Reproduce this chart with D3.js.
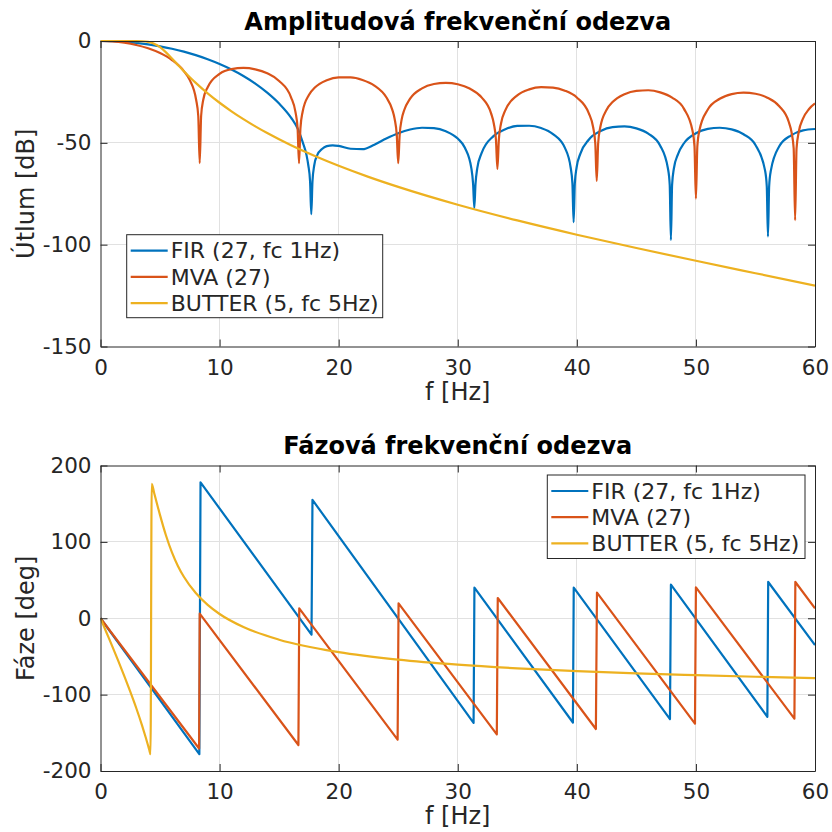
<!DOCTYPE html>
<html>
<head>
<meta charset="utf-8">
<script src="https://cdn.jsdelivr.net/npm/d3@7"></script>
<style>
  body { margin: 0; background: #ffffff; }
</style>
</head>
<body>
<script>
// ---- tick values ----
const freqTicks = [0, 10, 20, 30, 40, 50, 60];
const magTicks = [0, -50, -100, -150];
const phaseTicks = [-200, -100, 0, 100, 200];

// ---- legend entries ----
const seriesNames = ["FIR (27, fc 1Hz)", "MVA (27)", "BUTTER (5, fc 5Hz)"];

// ---- amplitude responses: [f (Hz), attenuation (dB)] ----
const firMagnitude = [
  [0, 0], [1, -0.1], [2, -0.41], [3, -0.93], [4, -1.66], [5, -2.61], [6, -3.8], [7, -5.23],
  [8, -6.94], [9, -8.94], [10, -11.28], [11, -13.99], [12, -17.16], [13, -20.89], [14, -25.35],
  [15, -30.7], [16, -37.6], [16.6, -43.5], [17, -50], [17.3, -56], [17.45, -61], [17.6, -69],
  [17.7, -85], [17.8, -69], [17.95, -61], [18.2, -56], [18.6, -53], [19, -51.6], [19.5, -51.2],
  [20, -51.5], [21, -52.9], [22, -53.1], [23, -50.9], [24, -47.9], [25, -45.3], [26, -43.45],
  [27, -42.6], [28, -42.8], [29, -44.3], [30, -47.9], [30.6, -52.4], [31.14, -62.4],
  [31.29, -70.3], [31.39, -82], [31.49, -70.3], [31.64, -62.4], [32, -55.1], [33, -46.7],
  [34, -43.3], [35, -41.7], [36, -41.6], [37, -42.75], [38, -45.7], [39, -52.5], [39.48, -62.1],
  [39.63, -70], [39.73, -89], [39.83, -70], [39.98, -62.1], [40.3, -55.3], [41, -48.5],
  [42, -44.2], [43, -42.3], [44, -41.95], [45, -42.9], [46, -45.5], [47, -51.4], [47.65, -62.6],
  [47.8, -70.6], [47.9, -97.7], [48, -70.6], [48.15, -62.6], [48.5, -55.5], [49, -50.2],
  [50, -45.3], [51, -43.15], [52, -42.6], [53, -43.4], [54, -45.8], [55, -51.05], [55.8, -63.4],
  [55.95, -71.3], [56.05, -96], [56.15, -71.3], [56.3, -63.4], [57, -51.7], [58, -46.3],
  [59, -43.9], [60, -43.2]
];

const mvaMagnitude = [
  [0, 0], [1, -0.21], [2, -0.84], [3, -1.94], [4, -3.58], [5, -5.94], [6, -9.34], [7, -14.76],
  [7.5, -19.21], [8.03, -28.87], [8.21, -36.82], [8.33, -60], [8.45, -36.82], [8.63, -28.87],
  [9, -22.68], [10, -16.11], [11, -13.79], [12, -13.22], [13, -13.91], [14, -15.86], [15, -19.6],
  [16, -27.62], [16.37, -34.83], [16.55, -42.78], [16.67, -60], [16.79, -42.78], [16.97, -34.83],
  [17.5, -26.5], [18, -22.88], [19, -19.26], [20, -17.87], [21, -17.86], [22, -19.11],
  [23, -21.9], [24, -27.65], [24.5, -33.68], [24.7, -38.26], [24.88, -46.2], [25, -60],
  [25.12, -46.2], [25.3, -38.26], [25.5, -34.02], [26, -28.31], [27, -23.24], [28, -21.12],
  [29, -20.55], [30, -21.25], [31, -23.35], [32, -27.68], [32.8, -35.53], [33.03, -40.62],
  [33.21, -48.56], [33.33, -62.8], [33.45, -48.56], [33.63, -40.62], [34, -33.91], [35, -26.68],
  [36, -23.75], [37, -22.66], [38, -22.87], [39, -24.38], [40, -27.73], [41, -35.39],
  [41.37, -42.37], [41.55, -50.32], [41.67, -68.7], [41.79, -50.32], [41.97, -42.37],
  [42.5, -33.78], [43, -30.01], [44, -26.11], [45, -24.45], [46, -24.19], [47, -25.2],
  [48, -27.78], [49, -33.32], [49.7, -43.74], [49.88, -51.68], [50, -77.4], [50.12, -51.68],
  [50.3, -43.74], [51, -33.61], [52, -28.36], [53, -26.07], [54, -25.35], [55, -25.9],
  [56, -27.85], [57, -32.05], [57.8, -39.79], [58.03, -44.81], [58.21, -52.76], [58.33, -88],
  [58.45, -52.76], [58.63, -44.81], [59, -38.02], [59.5, -33.41], [60, -30.66]
];

const butterMagnitude = [
  [0, 0], [1, 0], [2, 0], [3, -0.03], [3.5, -0.12], [4, -0.44], [4.5, -1.3], [5, -3.01],
  [5.5, -5.57], [6, -8.59], [6.5, -11.74], [7, -14.83], [7.5, -17.77], [8, -20.56], [9, -25.7],
  [10, -30.32], [11, -34.52], [12, -38.36], [13, -41.91], [14, -45.2], [16, -51.18], [18, -56.49],
  [20, -61.28], [22.5, -66.71], [25, -71.64], [30, -80.4], [35, -88.1], [40, -95.11],
  [45, -101.66], [50, -107.92], [55, -114.02], [60, -120.09]
];

// ---- phase responses: [f (Hz), phase (deg)] ----
const firPhase = [
  [0, 0], [8.3, -178], [8.4, 178], [17.72, -21.5], [17.8, 155], [31.33, -137], [31.4, 40],
  [39.67, -136.5], [39.74, 40], [47.82, -132], [47.9, 44], [56, -129], [56.07, 47.5], [60, -35]
];

const mvaPhase = [
  [0, 0], [8.28, -170.5], [8.33, 6], [16.62, -166], [16.69, 13], [24.95, -159], [25.03, 19.5],
  [33.28, -152], [33.36, 26.5], [41.6, -145], [41.69, 33.5], [49.92, -138], [50, 40.5],
  [58.27, -131.5], [58.35, 47.5], [60, 13]
];

const butterPhase = [
  [0, 0], [0.5, -18.6], [1, -37.2], [1.5, -56.2], [2, -75.7], [2.5, -96.1], [3, -117.5],
  [3.5, -140.9], [3.8, -156.2], [4, -166.9], [4.1, -172.5], [4.2, -178.1], [4.3, 176.1],
  [4.5, 164.4], [4.6, 158.5], [5, 135], [5.5, 108.3], [6, 86.2], [6.5, 68.5], [7, 54.3],
  [8, 33], [9, 17.5], [10, 5.6], [12, -11.5], [15, -28.1], [20, -44.4], [25, -54.2],
  [30, -60.8], [35, -65.6], [40, -69.2], [45, -72.1], [50, -74.5], [55, -76.6], [60, -78.3]
];

// ---- figure ----
const W = 832, H = 832;
const colors = ["#0072BD", "#D95319", "#EDB120"];
const axisColor = "#262626";
const gridColor = "#e1e1e1";
const fontFamily = "'DejaVu Sans', 'Liberation Sans', sans-serif";

const svg = d3.select("body").append("svg")
  .attr("width", W).attr("height", H)
  .style("font-family", fontFamily);
svg.append("rect").attr("width", W).attr("height", H).attr("fill", "#ffffff");

const plotLeft = 100.5, plotRight = 815, plotH = 305.5;

const panels = [
  {
    id: "amp", top: 41, domain: [-150, 0], ticks: magTicks,
    title: "Amplitudová frekvenční odezva", ylabel: "Útlum [dB]",
    series: [firMagnitude, mvaMagnitude, butterMagnitude],
    curves: [d3.curveMonotoneX, d3.curveMonotoneX, d3.curveMonotoneX],
    legend: { x: 126.7, y: 234.7, w: 256, h: 83 }
  },
  {
    id: "phase", top: 465.5, domain: [-200, 200], ticks: phaseTicks,
    title: "Fázová frekvenční odezva", ylabel: "Fáze [deg]",
    series: [firPhase, mvaPhase, butterPhase],
    curves: [d3.curveLinear, d3.curveLinear, d3.curveMonotoneX],
    legend: { x: 547.3, y: 475, w: 257.7, h: 83.5 }
  }
];

panels.forEach(p => {
  const bottom = p.top + plotH;
  const x = d3.scaleLinear().domain([0, 60]).range([plotLeft, plotRight]);
  const y = d3.scaleLinear().domain(p.domain).range([bottom, p.top]);
  const g = svg.append("g");

  // grid
  const grid = g.append("g").attr("stroke", gridColor).attr("stroke-width", 1)
    .attr("shape-rendering", "crispEdges");
  grid.selectAll("line.gx").data(freqTicks.slice(1, -1)).join("line")
    .attr("x1", d => x(d)).attr("x2", d => x(d)).attr("y1", p.top).attr("y2", bottom);
  grid.selectAll("line.gy").data(p.ticks.filter(t => t !== p.domain[0] && t !== p.domain[1])).join("line")
    .attr("x1", plotLeft).attr("x2", plotRight).attr("y1", d => y(d)).attr("y2", d => y(d));

  // data
  g.append("clipPath").attr("id", "clip-" + p.id)
    .append("rect").attr("x", plotLeft).attr("y", p.top - 2)
    .attr("width", plotRight - plotLeft).attr("height", plotH + 4);
  const lines = g.append("g").attr("clip-path", `url(#clip-${p.id})`);
  p.series.forEach((data, i) => {
    const line = d3.line().x(d => x(d[0])).y(d => y(d[1])).curve(p.curves[i]);
    lines.append("path").datum(data)
      .attr("d", line)
      .attr("fill", "none")
      .attr("stroke", colors[i])
      .attr("stroke-width", 2.2)
      .attr("stroke-linejoin", "round");
  });

  // axes (box with inward ticks)
  const fmt = d => String(d);
  const axB = g.append("g").attr("transform", `translate(0,${bottom})`)
    .call(d3.axisBottom(x).tickValues(freqTicks).tickSizeInner(-7).tickSizeOuter(0).tickPadding(13).tickFormat(fmt));
  const axL = g.append("g").attr("transform", `translate(${plotLeft},0)`)
    .call(d3.axisLeft(y).tickValues(p.ticks).tickSizeInner(-7).tickSizeOuter(0).tickPadding(9).tickFormat(fmt));
  const axT = g.append("g").attr("transform", `translate(0,${p.top})`)
    .call(d3.axisTop(x).tickValues(freqTicks).tickSizeInner(-7).tickSizeOuter(0).tickFormat(() => ""));
  const axR = g.append("g").attr("transform", `translate(${plotRight},0)`)
    .call(d3.axisRight(y).tickValues(p.ticks).tickSizeInner(-7).tickSizeOuter(0).tickFormat(() => ""));
  [axB, axL, axT, axR].forEach(a => {
    a.attr("font-family", fontFamily).attr("font-size", 21.5);
    a.select(".domain").attr("stroke", axisColor).attr("stroke-width", 1);
    a.selectAll(".tick line").attr("stroke", axisColor).attr("stroke-width", 1);
    a.selectAll(".tick text").attr("fill", axisColor);
  });

  // title and axis labels
  svg.append("text")
    .attr("x", (plotLeft + plotRight) / 2).attr("y", p.top - 11.5)
    .attr("text-anchor", "middle").attr("font-weight", "bold")
    .attr("font-size", 24).attr("fill", "#000000")
    .text(p.title);
  svg.append("text")
    .attr("x", (plotLeft + plotRight) / 2).attr("y", bottom + 53)
    .attr("text-anchor", "middle").attr("font-size", 24).attr("fill", axisColor)
    .text("f [Hz]");
  svg.append("text")
    .attr("transform", `translate(34,${p.top + plotH / 2}) rotate(-90)`)
    .attr("text-anchor", "middle").attr("font-size", 24).attr("fill", axisColor)
    .text(p.ylabel);

  // legend
  const L = p.legend;
  const lg = svg.append("g").attr("transform", `translate(${L.x},${L.y})`);
  lg.append("rect").attr("width", L.w).attr("height", L.h)
    .attr("fill", "#ffffff").attr("stroke", axisColor).attr("stroke-width", 1);
  seriesNames.forEach((name, i) => {
    const ry = 16 + i * 26.2;
    lg.append("line").attr("x1", 4).attr("x2", 41).attr("y1", ry).attr("y2", ry)
      .attr("stroke", colors[i]).attr("stroke-width", 2.2);
    lg.append("text").attr("x", 44).attr("y", ry + 7.8)
      .attr("font-size", 22).attr("fill", axisColor).text(name);
  });
});
</script>
</body>
</html>
